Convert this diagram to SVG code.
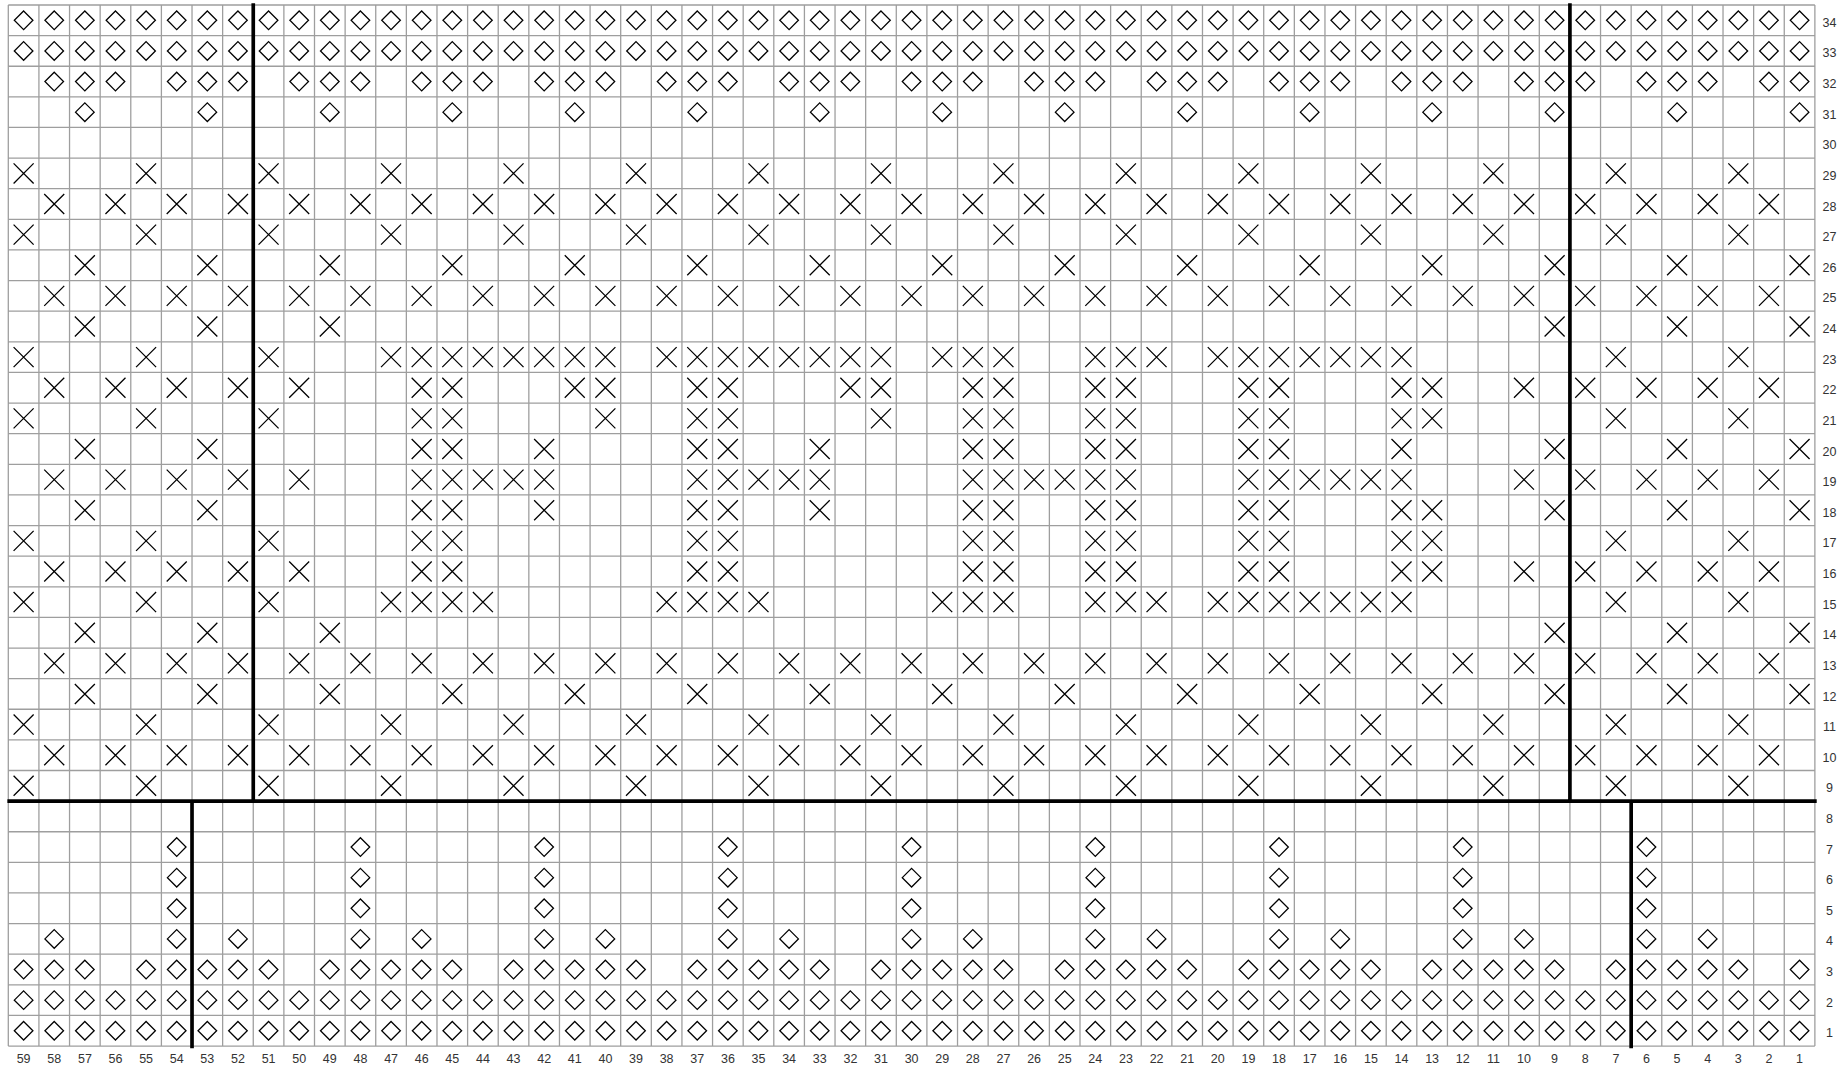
<svg xmlns="http://www.w3.org/2000/svg" xmlns:xlink="http://www.w3.org/1999/xlink" width="1841" height="1065" viewBox="0 0 1841 1065">
<style>
.s{fill:none;stroke:#000;stroke-width:0.042;stroke-linecap:butt}
.grid{fill:none;stroke:#9e9e9e;stroke-width:0.042}
.thick{fill:none;stroke:#000;stroke-width:0.12;stroke-linecap:butt}
text{font-family:"Liberation Sans",Arial,sans-serif;font-size:12.5px;fill:#333;text-anchor:middle}
</style>
<defs>
<path id="d" class="s" d="M.5,.196L.804,.5L.5,.804L.196,.5Z"/>
<path id="x" class="s" d="M.173,.173L.827,.827M.827,.173L.173,.827"/>
<g id="rowD"><use href="#d" x="0"/><use href="#d" x="1"/><use href="#d" x="2"/><use href="#d" x="3"/><use href="#d" x="4"/><use href="#d" x="5"/><use href="#d" x="6"/><use href="#d" x="7"/><use href="#d" x="8"/><use href="#d" x="9"/><use href="#d" x="10"/><use href="#d" x="11"/><use href="#d" x="12"/><use href="#d" x="13"/><use href="#d" x="14"/><use href="#d" x="15"/><use href="#d" x="16"/><use href="#d" x="17"/><use href="#d" x="18"/><use href="#d" x="19"/><use href="#d" x="20"/><use href="#d" x="21"/><use href="#d" x="22"/><use href="#d" x="23"/><use href="#d" x="24"/><use href="#d" x="25"/><use href="#d" x="26"/><use href="#d" x="27"/><use href="#d" x="28"/><use href="#d" x="29"/><use href="#d" x="30"/><use href="#d" x="31"/><use href="#d" x="32"/><use href="#d" x="33"/><use href="#d" x="34"/><use href="#d" x="35"/><use href="#d" x="36"/><use href="#d" x="37"/><use href="#d" x="38"/><use href="#d" x="39"/><use href="#d" x="40"/><use href="#d" x="41"/><use href="#d" x="42"/><use href="#d" x="43"/><use href="#d" x="44"/><use href="#d" x="45"/><use href="#d" x="46"/><use href="#d" x="47"/><use href="#d" x="48"/><use href="#d" x="49"/><use href="#d" x="50"/><use href="#d" x="51"/><use href="#d" x="52"/><use href="#d" x="53"/><use href="#d" x="54"/><use href="#d" x="55"/><use href="#d" x="56"/><use href="#d" x="57"/><use href="#d" x="58"/></g>
<g id="rowA"><use href="#x" x="0"/><use href="#x" x="4"/><use href="#x" x="8"/><use href="#x" x="12"/><use href="#x" x="16"/><use href="#x" x="20"/><use href="#x" x="24"/><use href="#x" x="28"/><use href="#x" x="32"/><use href="#x" x="36"/><use href="#x" x="40"/><use href="#x" x="44"/><use href="#x" x="48"/><use href="#x" x="52"/><use href="#x" x="56"/></g>
<g id="rowB"><use href="#x" x="1"/><use href="#x" x="3"/><use href="#x" x="5"/><use href="#x" x="7"/><use href="#x" x="9"/><use href="#x" x="11"/><use href="#x" x="13"/><use href="#x" x="15"/><use href="#x" x="17"/><use href="#x" x="19"/><use href="#x" x="21"/><use href="#x" x="23"/><use href="#x" x="25"/><use href="#x" x="27"/><use href="#x" x="29"/><use href="#x" x="31"/><use href="#x" x="33"/><use href="#x" x="35"/><use href="#x" x="37"/><use href="#x" x="39"/><use href="#x" x="41"/><use href="#x" x="43"/><use href="#x" x="45"/><use href="#x" x="47"/><use href="#x" x="49"/><use href="#x" x="51"/><use href="#x" x="53"/><use href="#x" x="55"/><use href="#x" x="57"/></g>
<g id="rowC"><use href="#x" x="2"/><use href="#x" x="6"/><use href="#x" x="10"/><use href="#x" x="14"/><use href="#x" x="18"/><use href="#x" x="22"/><use href="#x" x="26"/><use href="#x" x="30"/><use href="#x" x="34"/><use href="#x" x="38"/><use href="#x" x="42"/><use href="#x" x="46"/><use href="#x" x="50"/><use href="#x" x="54"/><use href="#x" x="58"/></g>
</defs>
<rect width="1841" height="1065" fill="#fff"/>
<g id="chart" transform="translate(8.3,5) scale(30.62)">
<path id="grid" class="grid" d="M0 0V34M1 0V34M2 0V34M3 0V34M4 0V34M5 0V34M6 0V34M7 0V34M8 0V34M9 0V34M10 0V34M11 0V34M12 0V34M13 0V34M14 0V34M15 0V34M16 0V34M17 0V34M18 0V34M19 0V34M20 0V34M21 0V34M22 0V34M23 0V34M24 0V34M25 0V34M26 0V34M27 0V34M28 0V34M29 0V34M30 0V34M31 0V34M32 0V34M33 0V34M34 0V34M35 0V34M36 0V34M37 0V34M38 0V34M39 0V34M40 0V34M41 0V34M42 0V34M43 0V34M44 0V34M45 0V34M46 0V34M47 0V34M48 0V34M49 0V34M50 0V34M51 0V34M52 0V34M53 0V34M54 0V34M55 0V34M56 0V34M57 0V34M58 0V34M59 0V34M0 0H59M0 1H59M0 2H59M0 3H59M0 4H59M0 5H59M0 6H59M0 7H59M0 8H59M0 9H59M0 10H59M0 11H59M0 12H59M0 13H59M0 14H59M0 15H59M0 16H59M0 17H59M0 18H59M0 19H59M0 20H59M0 21H59M0 22H59M0 23H59M0 24H59M0 25H59M0 26H59M0 27H59M0 28H59M0 29H59M0 30H59M0 31H59M0 32H59M0 33H59M0 34H59"/>
<g id="symbols">
<!-- rows 34, 33 -->
<use href="#rowD" y="0"/>
<use href="#rowD" y="1"/>
<!-- row 32 -->
<g transform="translate(0,2)"><use href="#d" x="1"/><use href="#d" x="2"/><use href="#d" x="3"/><use href="#d" x="5"/><use href="#d" x="6"/><use href="#d" x="7"/><use href="#d" x="9"/><use href="#d" x="10"/><use href="#d" x="11"/><use href="#d" x="13"/><use href="#d" x="14"/><use href="#d" x="15"/><use href="#d" x="17"/><use href="#d" x="18"/><use href="#d" x="19"/><use href="#d" x="21"/><use href="#d" x="22"/><use href="#d" x="23"/><use href="#d" x="25"/><use href="#d" x="26"/><use href="#d" x="27"/><use href="#d" x="29"/><use href="#d" x="30"/><use href="#d" x="31"/><use href="#d" x="33"/><use href="#d" x="34"/><use href="#d" x="35"/><use href="#d" x="37"/><use href="#d" x="38"/><use href="#d" x="39"/><use href="#d" x="41"/><use href="#d" x="42"/><use href="#d" x="43"/><use href="#d" x="45"/><use href="#d" x="46"/><use href="#d" x="47"/><use href="#d" x="49"/><use href="#d" x="50"/><use href="#d" x="51"/><use href="#d" x="53"/><use href="#d" x="54"/><use href="#d" x="55"/><use href="#d" x="57"/><use href="#d" x="58"/></g>
<!-- row 31 -->
<g transform="translate(0,3)"><use href="#d" x="2"/><use href="#d" x="6"/><use href="#d" x="10"/><use href="#d" x="14"/><use href="#d" x="18"/><use href="#d" x="22"/><use href="#d" x="26"/><use href="#d" x="30"/><use href="#d" x="34"/><use href="#d" x="38"/><use href="#d" x="42"/><use href="#d" x="46"/><use href="#d" x="50"/><use href="#d" x="54"/><use href="#d" x="58"/></g>
<!-- rows 29..25 -->
<use href="#rowA" y="5"/>
<use href="#rowB" y="6"/>
<use href="#rowA" y="7"/>
<use href="#rowC" y="8"/>
<use href="#rowB" y="9"/>
<!-- row 24 -->
<g transform="translate(0,10)"><use href="#x" x="2"/><use href="#x" x="6"/><use href="#x" x="10"/><use href="#x" x="50"/><use href="#x" x="54"/><use href="#x" x="58"/></g>
<!-- row 23 -->
<g transform="translate(0,11)"><use href="#x" x="0"/><use href="#x" x="4"/><use href="#x" x="8"/><use href="#x" x="12"/><use href="#x" x="13"/><use href="#x" x="14"/><use href="#x" x="15"/><use href="#x" x="16"/><use href="#x" x="17"/><use href="#x" x="18"/><use href="#x" x="19"/><use href="#x" x="21"/><use href="#x" x="22"/><use href="#x" x="23"/><use href="#x" x="24"/><use href="#x" x="25"/><use href="#x" x="26"/><use href="#x" x="27"/><use href="#x" x="28"/><use href="#x" x="30"/><use href="#x" x="31"/><use href="#x" x="32"/><use href="#x" x="35"/><use href="#x" x="36"/><use href="#x" x="37"/><use href="#x" x="39"/><use href="#x" x="40"/><use href="#x" x="41"/><use href="#x" x="42"/><use href="#x" x="43"/><use href="#x" x="44"/><use href="#x" x="45"/><use href="#x" x="52"/><use href="#x" x="56"/></g>
<!-- row 22 -->
<g transform="translate(0,12)"><use href="#x" x="1"/><use href="#x" x="3"/><use href="#x" x="5"/><use href="#x" x="7"/><use href="#x" x="9"/><use href="#x" x="13"/><use href="#x" x="14"/><use href="#x" x="18"/><use href="#x" x="19"/><use href="#x" x="22"/><use href="#x" x="23"/><use href="#x" x="27"/><use href="#x" x="28"/><use href="#x" x="31"/><use href="#x" x="32"/><use href="#x" x="35"/><use href="#x" x="36"/><use href="#x" x="40"/><use href="#x" x="41"/><use href="#x" x="45"/><use href="#x" x="46"/><use href="#x" x="49"/><use href="#x" x="51"/><use href="#x" x="53"/><use href="#x" x="55"/><use href="#x" x="57"/></g>
<!-- row 21 -->
<g transform="translate(0,13)"><use href="#x" x="0"/><use href="#x" x="4"/><use href="#x" x="8"/><use href="#x" x="13"/><use href="#x" x="14"/><use href="#x" x="19"/><use href="#x" x="22"/><use href="#x" x="23"/><use href="#x" x="28"/><use href="#x" x="31"/><use href="#x" x="32"/><use href="#x" x="35"/><use href="#x" x="36"/><use href="#x" x="40"/><use href="#x" x="41"/><use href="#x" x="45"/><use href="#x" x="46"/><use href="#x" x="52"/><use href="#x" x="56"/></g>
<!-- row 20 -->
<g transform="translate(0,14)"><use href="#x" x="2"/><use href="#x" x="6"/><use href="#x" x="13"/><use href="#x" x="14"/><use href="#x" x="17"/><use href="#x" x="22"/><use href="#x" x="23"/><use href="#x" x="26"/><use href="#x" x="31"/><use href="#x" x="32"/><use href="#x" x="35"/><use href="#x" x="36"/><use href="#x" x="40"/><use href="#x" x="41"/><use href="#x" x="45"/><use href="#x" x="50"/><use href="#x" x="54"/><use href="#x" x="58"/></g>
<!-- row 19 -->
<g transform="translate(0,15)"><use href="#x" x="1"/><use href="#x" x="3"/><use href="#x" x="5"/><use href="#x" x="7"/><use href="#x" x="9"/><use href="#x" x="13"/><use href="#x" x="14"/><use href="#x" x="15"/><use href="#x" x="16"/><use href="#x" x="17"/><use href="#x" x="22"/><use href="#x" x="23"/><use href="#x" x="24"/><use href="#x" x="25"/><use href="#x" x="26"/><use href="#x" x="31"/><use href="#x" x="32"/><use href="#x" x="33"/><use href="#x" x="34"/><use href="#x" x="35"/><use href="#x" x="36"/><use href="#x" x="40"/><use href="#x" x="41"/><use href="#x" x="42"/><use href="#x" x="43"/><use href="#x" x="44"/><use href="#x" x="45"/><use href="#x" x="49"/><use href="#x" x="51"/><use href="#x" x="53"/><use href="#x" x="55"/><use href="#x" x="57"/></g>
<!-- row 18 -->
<g transform="translate(0,16)"><use href="#x" x="2"/><use href="#x" x="6"/><use href="#x" x="13"/><use href="#x" x="14"/><use href="#x" x="17"/><use href="#x" x="22"/><use href="#x" x="23"/><use href="#x" x="26"/><use href="#x" x="31"/><use href="#x" x="32"/><use href="#x" x="35"/><use href="#x" x="36"/><use href="#x" x="40"/><use href="#x" x="41"/><use href="#x" x="45"/><use href="#x" x="46"/><use href="#x" x="50"/><use href="#x" x="54"/><use href="#x" x="58"/></g>
<!-- row 17 -->
<g transform="translate(0,17)"><use href="#x" x="0"/><use href="#x" x="4"/><use href="#x" x="8"/><use href="#x" x="13"/><use href="#x" x="14"/><use href="#x" x="22"/><use href="#x" x="23"/><use href="#x" x="31"/><use href="#x" x="32"/><use href="#x" x="35"/><use href="#x" x="36"/><use href="#x" x="40"/><use href="#x" x="41"/><use href="#x" x="45"/><use href="#x" x="46"/><use href="#x" x="52"/><use href="#x" x="56"/></g>
<!-- row 16 -->
<g transform="translate(0,18)"><use href="#x" x="1"/><use href="#x" x="3"/><use href="#x" x="5"/><use href="#x" x="7"/><use href="#x" x="9"/><use href="#x" x="13"/><use href="#x" x="14"/><use href="#x" x="22"/><use href="#x" x="23"/><use href="#x" x="31"/><use href="#x" x="32"/><use href="#x" x="35"/><use href="#x" x="36"/><use href="#x" x="40"/><use href="#x" x="41"/><use href="#x" x="45"/><use href="#x" x="46"/><use href="#x" x="49"/><use href="#x" x="51"/><use href="#x" x="53"/><use href="#x" x="55"/><use href="#x" x="57"/></g>
<!-- row 15 -->
<g transform="translate(0,19)"><use href="#x" x="0"/><use href="#x" x="4"/><use href="#x" x="8"/><use href="#x" x="12"/><use href="#x" x="13"/><use href="#x" x="14"/><use href="#x" x="15"/><use href="#x" x="21"/><use href="#x" x="22"/><use href="#x" x="23"/><use href="#x" x="24"/><use href="#x" x="30"/><use href="#x" x="31"/><use href="#x" x="32"/><use href="#x" x="35"/><use href="#x" x="36"/><use href="#x" x="37"/><use href="#x" x="39"/><use href="#x" x="40"/><use href="#x" x="41"/><use href="#x" x="42"/><use href="#x" x="43"/><use href="#x" x="44"/><use href="#x" x="45"/><use href="#x" x="52"/><use href="#x" x="56"/></g>
<!-- row 14 -->
<g transform="translate(0,20)"><use href="#x" x="2"/><use href="#x" x="6"/><use href="#x" x="10"/><use href="#x" x="50"/><use href="#x" x="54"/><use href="#x" x="58"/></g>
<!-- rows 13..9 -->
<use href="#rowB" y="21"/>
<use href="#rowC" y="22"/>
<use href="#rowA" y="23"/>
<use href="#rowB" y="24"/>
<use href="#rowA" y="25"/>
<!-- rows 7..5 -->
<g transform="translate(0,27)"><use href="#d" x="5"/><use href="#d" x="11"/><use href="#d" x="17"/><use href="#d" x="23"/><use href="#d" x="29"/><use href="#d" x="35"/><use href="#d" x="41"/><use href="#d" x="47"/><use href="#d" x="53"/></g>
<g transform="translate(0,28)"><use href="#d" x="5"/><use href="#d" x="11"/><use href="#d" x="17"/><use href="#d" x="23"/><use href="#d" x="29"/><use href="#d" x="35"/><use href="#d" x="41"/><use href="#d" x="47"/><use href="#d" x="53"/></g>
<g transform="translate(0,29)"><use href="#d" x="5"/><use href="#d" x="11"/><use href="#d" x="17"/><use href="#d" x="23"/><use href="#d" x="29"/><use href="#d" x="35"/><use href="#d" x="41"/><use href="#d" x="47"/><use href="#d" x="53"/></g>
<!-- row 4 -->
<g transform="translate(0,30)"><use href="#d" x="1"/><use href="#d" x="5"/><use href="#d" x="7"/><use href="#d" x="11"/><use href="#d" x="13"/><use href="#d" x="17"/><use href="#d" x="19"/><use href="#d" x="23"/><use href="#d" x="25"/><use href="#d" x="29"/><use href="#d" x="31"/><use href="#d" x="35"/><use href="#d" x="37"/><use href="#d" x="41"/><use href="#d" x="43"/><use href="#d" x="47"/><use href="#d" x="49"/><use href="#d" x="53"/><use href="#d" x="55"/></g>
<!-- row 3 -->
<g transform="translate(0,31)"><use href="#d" x="0"/><use href="#d" x="1"/><use href="#d" x="2"/><use href="#d" x="4"/><use href="#d" x="5"/><use href="#d" x="6"/><use href="#d" x="7"/><use href="#d" x="8"/><use href="#d" x="10"/><use href="#d" x="11"/><use href="#d" x="12"/><use href="#d" x="13"/><use href="#d" x="14"/><use href="#d" x="16"/><use href="#d" x="17"/><use href="#d" x="18"/><use href="#d" x="19"/><use href="#d" x="20"/><use href="#d" x="22"/><use href="#d" x="23"/><use href="#d" x="24"/><use href="#d" x="25"/><use href="#d" x="26"/><use href="#d" x="28"/><use href="#d" x="29"/><use href="#d" x="30"/><use href="#d" x="31"/><use href="#d" x="32"/><use href="#d" x="34"/><use href="#d" x="35"/><use href="#d" x="36"/><use href="#d" x="37"/><use href="#d" x="38"/><use href="#d" x="40"/><use href="#d" x="41"/><use href="#d" x="42"/><use href="#d" x="43"/><use href="#d" x="44"/><use href="#d" x="46"/><use href="#d" x="47"/><use href="#d" x="48"/><use href="#d" x="49"/><use href="#d" x="50"/><use href="#d" x="52"/><use href="#d" x="53"/><use href="#d" x="54"/><use href="#d" x="55"/><use href="#d" x="56"/><use href="#d" x="58"/></g>
<!-- rows 2, 1 -->
<use href="#rowD" y="32"/>
<use href="#rowD" y="33"/>
</g>
<path id="dividers" class="thick" d="M-0.03 26H59.06M8 -0.06V26M51 -0.06V26M6 26V34.07M53 26V34.07"/>
</g>
<g id="col-labels">
<text x="23.6" y="1062.5">59</text><text x="54.2" y="1062.5">58</text><text x="84.9" y="1062.5">57</text><text x="115.5" y="1062.5">56</text><text x="146.1" y="1062.5">55</text><text x="176.7" y="1062.5">54</text><text x="207.3" y="1062.5">53</text><text x="238.0" y="1062.5">52</text><text x="268.6" y="1062.5">51</text><text x="299.2" y="1062.5">50</text><text x="329.8" y="1062.5">49</text><text x="360.4" y="1062.5">48</text><text x="391.1" y="1062.5">47</text><text x="421.7" y="1062.5">46</text><text x="452.3" y="1062.5">45</text><text x="482.9" y="1062.5">44</text><text x="513.5" y="1062.5">43</text><text x="544.2" y="1062.5">42</text><text x="574.8" y="1062.5">41</text><text x="605.4" y="1062.5">40</text><text x="636.0" y="1062.5">39</text><text x="666.6" y="1062.5">38</text><text x="697.3" y="1062.5">37</text><text x="727.9" y="1062.5">36</text><text x="758.5" y="1062.5">35</text><text x="789.1" y="1062.5">34</text><text x="819.7" y="1062.5">33</text><text x="850.4" y="1062.5">32</text><text x="881.0" y="1062.5">31</text><text x="911.6" y="1062.5">30</text><text x="942.2" y="1062.5">29</text><text x="972.8" y="1062.5">28</text><text x="1003.5" y="1062.5">27</text><text x="1034.1" y="1062.5">26</text><text x="1064.7" y="1062.5">25</text><text x="1095.3" y="1062.5">24</text><text x="1125.9" y="1062.5">23</text><text x="1156.6" y="1062.5">22</text><text x="1187.2" y="1062.5">21</text><text x="1217.8" y="1062.5">20</text><text x="1248.4" y="1062.5">19</text><text x="1279.0" y="1062.5">18</text><text x="1309.7" y="1062.5">17</text><text x="1340.3" y="1062.5">16</text><text x="1370.9" y="1062.5">15</text><text x="1401.5" y="1062.5">14</text><text x="1432.1" y="1062.5">13</text><text x="1462.8" y="1062.5">12</text><text x="1493.4" y="1062.5">11</text><text x="1524.0" y="1062.5">10</text><text x="1554.6" y="1062.5">9</text><text x="1585.2" y="1062.5">8</text><text x="1615.9" y="1062.5">7</text><text x="1646.5" y="1062.5">6</text><text x="1677.1" y="1062.5">5</text><text x="1707.7" y="1062.5">4</text><text x="1738.3" y="1062.5">3</text><text x="1769.0" y="1062.5">2</text><text x="1799.6" y="1062.5">1</text>
</g>
<g id="row-labels">
<text x="1829.5" y="26.8">34</text><text x="1829.5" y="57.4">33</text><text x="1829.5" y="88.1">32</text><text x="1829.5" y="118.7">31</text><text x="1829.5" y="149.3">30</text><text x="1829.5" y="179.9">29</text><text x="1829.5" y="210.5">28</text><text x="1829.5" y="241.1">27</text><text x="1829.5" y="271.8">26</text><text x="1829.5" y="302.4">25</text><text x="1829.5" y="333.0">24</text><text x="1829.5" y="363.6">23</text><text x="1829.5" y="394.3">22</text><text x="1829.5" y="424.9">21</text><text x="1829.5" y="455.5">20</text><text x="1829.5" y="486.1">19</text><text x="1829.5" y="516.7">18</text><text x="1829.5" y="547.4">17</text><text x="1829.5" y="578.0">16</text><text x="1829.5" y="608.6">15</text><text x="1829.5" y="639.2">14</text><text x="1829.5" y="669.8">13</text><text x="1829.5" y="700.5">12</text><text x="1829.5" y="731.1">11</text><text x="1829.5" y="761.7">10</text><text x="1829.5" y="792.3">9</text><text x="1829.5" y="822.9">8</text><text x="1829.5" y="853.6">7</text><text x="1829.5" y="884.2">6</text><text x="1829.5" y="914.8">5</text><text x="1829.5" y="945.4">4</text><text x="1829.5" y="976.0">3</text><text x="1829.5" y="1006.7">2</text><text x="1829.5" y="1037.3">1</text>
</g>
</svg>
